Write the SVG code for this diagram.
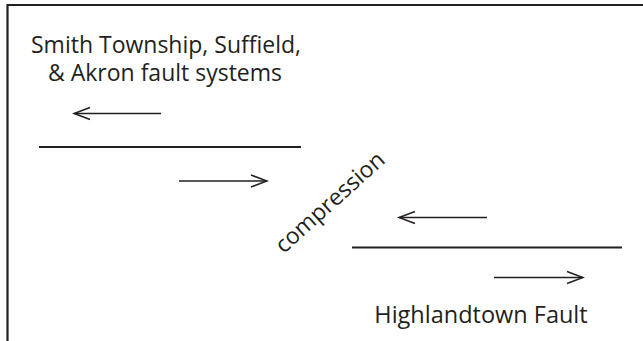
<svg xmlns="http://www.w3.org/2000/svg" width="643" height="341" viewBox="0 0 643 341">
<defs>
<style>
.frame{fill:none;stroke:#231f20;stroke-width:2.2}
.fault{stroke:#231f20;stroke-width:2;fill:none}
.arrow{stroke:#231f20;stroke-width:1.6;fill:none;marker-end:url(#head)}
.lbl{font-family:"Open Sans","Noto Sans","Liberation Sans",sans-serif;font-size:23px;fill:#231f20}
</style>
<marker id="head" markerUnits="userSpaceOnUse" markerWidth="20" markerHeight="16" viewBox="-18 -8 20 16" refX="0" refY="0" orient="auto">
<path d="M-16,-6 L0,0 L-16,6" fill="none" stroke="#231f20" stroke-width="1.6"/>
</marker>
</defs>
<rect width="643" height="341" fill="#fff"/>
<path class="frame" d="M7.5,341 V5 H643"/>
<g id="label-smith">
<text class="lbl" x="166" y="53" text-anchor="middle">Smith Township, Suffield,</text>
<text class="lbl" x="165" y="80.5" text-anchor="middle">&amp; Akron fault systems</text>
</g>
<g id="label-highlandtown">
<text class="lbl" x="481" y="323" text-anchor="middle" style="font-size:23.5px">Highlandtown Fault</text>
</g>
<g id="label-compression">
<text class="lbl" text-anchor="middle" transform="translate(335,208) rotate(-42)">compression</text>
</g>
<g id="fault-upper">
<line class="fault" x1="39" y1="147" x2="301" y2="147"/>
</g>
<g id="fault-lower">
<line class="fault" x1="352" y1="247.5" x2="622" y2="247.5"/>
</g>
<g id="connectors">
<line class="arrow" x1="161" y1="113.5" x2="74" y2="113.5"/>
<line class="arrow" x1="179" y1="181" x2="267" y2="181"/>
<line class="arrow" x1="487" y1="217.5" x2="399" y2="217.5"/>
<line class="arrow" x1="494" y1="277.5" x2="583" y2="277.5"/>
</g>
</svg>
